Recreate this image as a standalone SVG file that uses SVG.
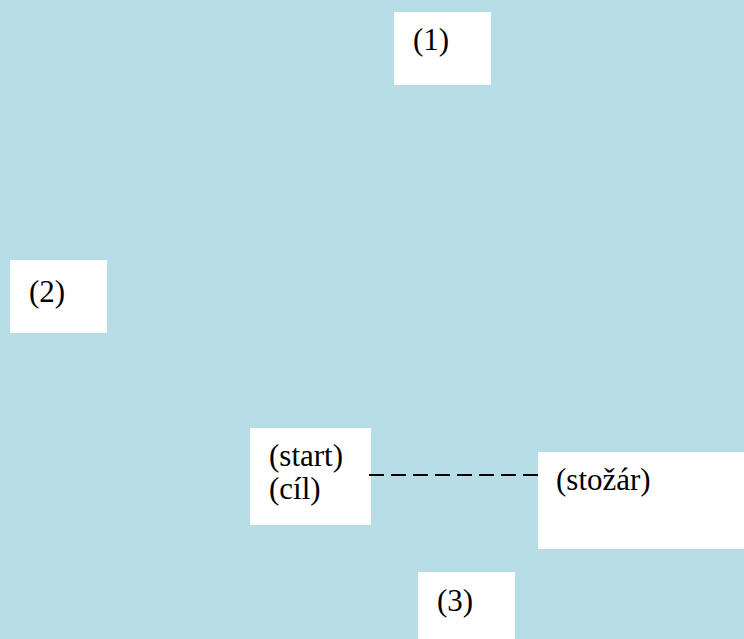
<svg xmlns="http://www.w3.org/2000/svg" width="744" height="639" viewBox="0 0 744 639">
<style>
.box{fill:#ffffff;stroke:none}
.lbl{font-family:'Liberation Serif',serif;font-size:31px;fill:#000000}
.dash{stroke:#000000;stroke-width:2;stroke-dasharray:15 7;fill:none}
</style>
<rect x="0" y="0" width="744" height="639" fill="#b7dde7"/>
<g id="node-1">
<rect class="box" x="394" y="12" width="97" height="73"/>
<text class="lbl" x="413" y="50">(1)</text>
</g>
<g id="node-2">
<rect class="box" x="10" y="260" width="97" height="73"/>
<text class="lbl" x="29" y="302">(2)</text>
</g>
<g id="node-start">
<rect class="box" x="250" y="428" width="121" height="97"/>
<text class="lbl" x="269" y="466">(start)</text>
<text class="lbl" x="269" y="499">(cíl)</text>
</g>
<g id="node-stozar">
<rect class="box" x="538" y="452" width="206" height="97"/>
<text class="lbl" x="556" y="490">(stožár)</text>
</g>
<g id="node-3">
<rect class="box" x="418" y="572" width="97" height="67"/>
<text class="lbl" x="437" y="611">(3)</text>
</g>
<g id="connectors">
<line class="dash" x1="369" y1="475" x2="538" y2="475"/>
</g>
</svg>
